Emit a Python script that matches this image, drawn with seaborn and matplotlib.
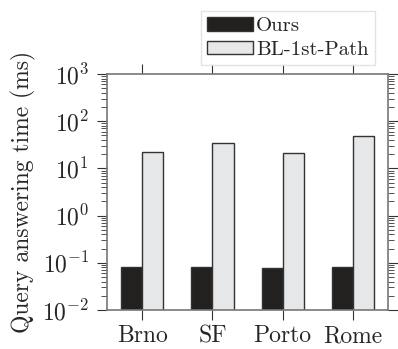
import pandas as pd
import matplotlib
matplotlib.use("Agg")
import matplotlib.pyplot as plt
import seaborn as sns

# values (ms, log scale)
cities = ["Brno", "SF", "Porto", "Rome"]
ours = [0.080, 0.082, 0.077, 0.080]
baseline = [22, 35, 21, 48]
methods = ["Ours", "BL-1st-Path"]

df = pd.DataFrame({
    "city": cities * 2,
    "method": [methods[0]] * len(cities) + [methods[1]] * len(cities),
    "time": ours + baseline,
})

sns.set_style("ticks")
plt.rcParams["font.family"] = ["cmr10", "DejaVu Serif"]
plt.rcParams["mathtext.fontset"] = "cm"
plt.rcParams["axes.formatter.use_mathtext"] = True

fig = plt.figure(figsize=(3.98, 3.49), dpi=100)
ax = fig.add_axes([0.269, 0.112, 0.706, 0.676])

sns.barplot(data=df, x="city", y="time", hue="method",
            palette=["#231f20", "#e6e7e8"], width=0.6,
            edgecolor="#333333", linewidth=1.0, ax=ax)

ax.set_yscale("log")
ax.set_ylim(1e-2, 1e3)
ax.set_xlim(-0.5, 3.5)
ax.set_xlabel("")
ax.set_ylabel("Query answering time (ms)", fontsize=17, labelpad=4)

for s in ax.spines.values():
    s.set_color("#777777")
    s.set_linewidth(1.2)
    s.set_visible(True)

ax.tick_params(axis="both", which="both", direction="out", top=True, right=True,
               color="#333333", labelsize=17)
ax.tick_params(axis="y", which="major", length=7, pad=6)
ax.tick_params(axis="y", which="minor", length=4)
ax.tick_params(axis="x", which="major", length=7, pad=4)
ax.set_yticks([1e-2, 1e-1, 1e0, 1e1, 1e2, 1e3])

handles, labels = ax.get_legend_handles_labels()
ax.legend(handles, labels, loc="lower right", bbox_to_anchor=(0.96, 1.03),
          fontsize=15, frameon=True, fancybox=False, edgecolor="#dddddd",
          handlelength=2.2, handleheight=0.6, handletextpad=0.15,
          borderpad=0.3, labelspacing=0.25, borderaxespad=0.1)

fig.savefig("out.png", dpi=100)
